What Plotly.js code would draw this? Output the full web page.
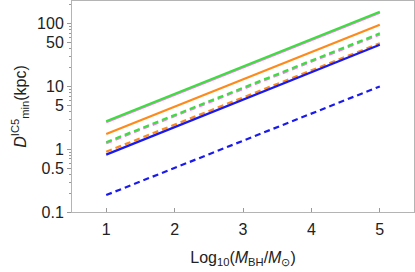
<!DOCTYPE html>
<html><head><meta charset="utf-8">
<script src="https://cdn.plot.ly/plotly-3.0.1.min.js"></script>
<style>html,body{margin:0;padding:0;background:#fff}#c{width:415px;height:272px}</style>
</head><body><div id="c"></div>
<script>
const xEnds = [1, 5];
const violetSolid = [2.68, 149];
const greenSolid = [2.78, 155];
const orangeSolid = [1.75, 96];
const violetDashed = [1.24, 67];
const greenDashed = [1.29, 70];
const orangeDashed = [0.91, 48.7];
const blueSolid = [0.82, 46];
const blueDashed = [0.186, 10];
const xTickVals = [1, 2, 3, 4, 5];
const yMajor = [0.1, 0.5, 1, 5, 10, 50, 100];
const yMajorText = ['0.1', '0.5', '1', '5', '10', '50', '100'];
const yMinor = [0.2,0.3,0.4,0.6,0.7,0.8,0.9,2,3,4,6,7,8,9,20,30,40,60,70,80,90,200];

function tr(y, color, dash){
  return {x: xEnds, y: y, type:'scatter', mode:'lines',
    line:{color: color, width:2.2, dash: dash || 'solid'}, hoverinfo:'skip', showlegend:false};
}
const data = [
  tr(violetSolid, '#ee82ee'),
  tr(greenSolid, '#3ae03a'),
  tr(orangeSolid, '#ff8a1a'),
  tr(violetDashed, '#ee82ee', '6px,4px'),
  tr(greenDashed, '#3ae03a', '6px,4px'),
  tr(orangeDashed, '#ff8a1a', '6px,4px'),
  tr(blueSolid, '#1a1aee'),
  tr(blueDashed, '#1a1aee', '6px,4px'),
  {x:[1], y:[1], yaxis:'y2', type:'scatter', mode:'markers', marker:{opacity:0}, hoverinfo:'skip', showlegend:false}
];
const font = {family:'Liberation Sans, Arial, sans-serif', size:16, color:'#222'};
const layout = {
  width:415, height:272,
  margin:{l:72, r:1, t:1, b:60},
  paper_bgcolor:'#fff', plot_bgcolor:'#fff',
  font: font,
  xaxis:{range:[0.5,5.5], tickvals:xTickVals, ticks:'inside', ticklen:4, tickcolor:'#999',
    showline:true, linecolor:'#b4b4b4', linewidth:1, mirror:true, showgrid:false, zeroline:false,
    tickfont:font, ticklabelstandoff:3,
    title:{text:'Log<sub>10</sub>(<i>M</i><sub>BH</sub>/<i>M</i><sub>⊙</sub>)', font:font, standoff:14}},
  yaxis:{type:'log', range:[-1, 2.36], tickvals:yMinor, showticklabels:false, ticks:'outside', ticklen:2, tickcolor:'#999',
    showline:true, linecolor:'#b4b4b4', linewidth:1, mirror:true, showgrid:false, zeroline:false},
  yaxis2:{type:'log', range:[-1, 2.36], overlaying:'y', side:'left', tickvals:yMajor, ticktext:yMajorText,
    ticks:'outside', ticklen:4, tickcolor:'#999', showline:false, showgrid:false, zeroline:false, tickfont:font,
    title:{text:'<i>D</i><sup>IC5</sup><sub>min</sub>(kpc)', font:font, standoff:6}}
};
Plotly.newPlot('c', data, layout, {staticPlot:true, displayModeBar:false});
</script></body></html>
